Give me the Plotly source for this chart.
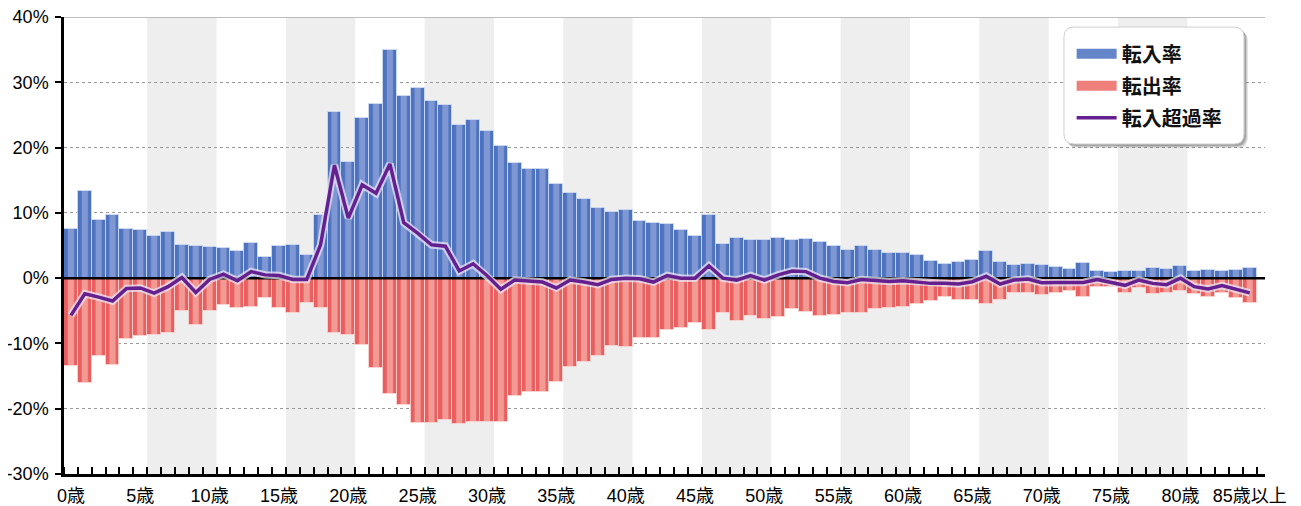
import plotly.graph_objects as go

# age index 0..85 (85 = 85歳以上)
ages = list(range(86))

in_rate = [7.6, 13.4, 8.9, 9.7, 7.6, 7.3, 6.4, 7.0, 5.1, 5.0,
           4.75, 4.6, 4.1, 5.4, 3.3, 4.9, 5.1, 3.5, 9.7, 25.4,
           17.8, 24.5, 26.7, 35.0, 27.9, 29.1, 27.2, 26.5, 23.4, 24.2,
           22.5, 20.3, 17.7, 16.7, 16.7, 14.4, 13.1, 12.1, 10.8, 10.1,
           10.5, 8.7, 8.5, 8.3, 7.3, 6.5, 9.7, 5.3, 6.1, 5.9,
           5.9, 6.2, 5.8, 6.0, 5.5, 4.9, 4.3, 5.0, 4.3, 3.9,
           3.9, 3.5, 2.7, 2.15, 2.45, 2.75, 4.1, 2.4, 2.0, 2.15,
           2.0, 1.65, 1.4, 2.25, 1.1, 0.9, 1.1, 1.05, 1.6, 1.4,
           1.8, 1.1, 1.2, 1.05, 1.3, 1.5]

out_rate = [-13.5, -16.0, -12.0, -13.3, -9.25, -8.8, -8.7, -8.4, -5.1, -7.2,
            -5.1, -4.1, -4.5, -4.4, -3.1, -4.6, -5.3, -3.8, -4.6, -8.4,
            -8.7, -10.3, -13.8, -17.8, -19.5, -22.2, -22.2, -21.8, -22.3, -22.1,
            -22.1, -22.1, -18.1, -17.4, -17.4, -15.9, -13.6, -12.9, -12.0, -10.4,
            -10.6, -9.1, -9.1, -8.0, -7.6, -6.9, -7.9, -5.3, -6.5, -5.8,
            -6.2, -5.9, -4.75, -5.2, -5.8, -5.7, -5.3, -5.3, -4.75, -4.5,
            -4.4, -4.0, -3.5, -2.9, -3.3, -3.3, -4.0, -3.3, -2.2, -2.2,
            -2.6, -2.35, -1.95, -2.9, -1.4, -1.4, -2.25, -1.5, -2.4, -2.35,
            -1.9, -2.45, -2.9, -2.35, -3.0, -3.8]

net_rate = [-5.7, -2.4, -2.9, -3.5, -1.6, -1.5, -2.3, -1.3, 0.1, -2.2,
            -0.2, 0.6, -0.4, 1.0, 0.5, 0.4, -0.2, -0.2, 5.1, 17.3,
            9.2, 14.3, 13.0, 17.5, 8.5, 6.9, 5.1, 4.9, 1.1, 2.2,
            0.4, -1.7, -0.3, -0.4, -0.6, -1.5, -0.3, -0.6, -1.0, -0.2,
            0.0, -0.1, -0.6, 0.4, 0.0, 0.0, 1.9, 0.0, -0.3, 0.4,
            -0.3, 0.5, 1.1, 1.0, 0.0, -0.5, -0.7, -0.2, -0.4, -0.5,
            -0.4, -0.6, -0.8, -0.8, -0.9, -0.55, 0.3, -0.9, -0.3, -0.15,
            -0.7, -0.65, -0.6, -0.65, -0.2, -0.6, -1.1, -0.3, -0.8, -1.0,
            0.0, -1.3, -1.65, -1.15, -1.7, -2.25]

tick_pos = [0, 5, 10, 15, 20, 25, 30, 35, 40, 45, 50, 55, 60, 65, 70, 75, 80, 85]
tick_labels = ["0歳", "5歳", "10歳", "15歳", "20歳", "25歳", "30歳", "35歳", "40歳",
               "45歳", "50歳", "55歳", "60歳", "65歳", "70歳", "75歳", "80歳", "85歳以上"]
y_ticks = [-30, -20, -10, 0, 10, 20, 30, 40]
y_labels = ["-30%", "-20%", "-10%", "0%", "10%", "20%", "30%", "40%"]

FONT = "Liberation Sans, Noto Sans CJK JP, sans-serif"
XR = [-0.5, 86.1]
bar_w = 1201 / (XR[1] - XR[0])  # px per bar, used for the shading stripe

fig = go.Figure()
fig.add_bar(x=ages, y=in_rate, name="転入率", showlegend=False,
            marker=dict(color="#5479c3", line=dict(color="rgba(210,222,245,0.8)", width=1),
                        pattern=dict(shape="|", bgcolor="#4d72bf", fgcolor="#7f98d3",
                                     size=bar_w, solidity=0.45, fillmode="replace")))
fig.add_bar(x=ages, y=out_rate, name="転出率", showlegend=False,
            marker=dict(color="#ec6d6b", line=dict(color="rgba(250,215,212,0.8)", width=1),
                        pattern=dict(shape="|", bgcolor="#e95e5e", fgcolor="#f39a94",
                                     size=bar_w, solidity=0.45, fillmode="replace")))
# zero line above bars, below the net line
fig.add_scatter(x=XR, y=[0, 0], mode="lines", line=dict(color="black", width=2.5),
                showlegend=False, hoverinfo="skip")
fig.add_scatter(x=ages, y=net_rate, mode="lines", line=dict(color="rgba(235,230,245,0.75)", width=7.5),
                showlegend=False, hoverinfo="skip")
fig.add_scatter(x=ages, y=net_rate, mode="lines", name="転入超過率", legendrank=3, legendgroup="c",
                line=dict(color="#64208e", width=3.5))
# legend keys for the bars: wide rectangles like the original
fig.add_scatter(x=[None], y=[None], mode="lines", name="転入率", legendrank=1, legendgroup="a",
                line=dict(color="#6585c9", width=19), hoverinfo="skip")
fig.add_scatter(x=[None], y=[None], mode="lines", name="転出率", legendrank=2, legendgroup="b",
                line=dict(color="#ee7f7b", width=19), hoverinfo="skip")

# grey age bands
for a in range(5, 80, 10):
    fig.add_shape(type="rect", xref="x", yref="paper", x0=a + 0.5, x1=a + 5.5, y0=0, y1=1,
                  fillcolor="#eeeeee", line_width=0, layer="below")

# top border
fig.add_shape(type="line", xref="paper", yref="y", x0=0, x1=1, y0=40, y1=40,
              line=dict(color="#a8a8a8", width=1.5), layer="above")

# legend box with rounded corners and shadow
bx0, bx1, by0, by1 = 0.8326, 0.9825, 0.7221, 0.978
rx, ry = 0.0085, 0.022


def rounded(x0, x1, y0, y1):
    return (f"M{x0 + rx},{y1} L{x1 - rx},{y1} Q{x1},{y1} {x1},{y1 - ry} "
            f"L{x1},{y0 + ry} Q{x1},{y0} {x1 - rx},{y0} L{x0 + rx},{y0} "
            f"Q{x0},{y0} {x0},{y0 + ry} L{x0},{y1 - ry} Q{x0},{y1} {x0 + rx},{y1} Z")


for k, op in [(4, 0.12), (3, 0.18), (2, 0.25)]:
    dx, dy = k / 1201, k / 457
    fig.add_shape(type="path", xref="paper", yref="paper",
                  path=rounded(bx0 + dx, bx1 + dx, by0 - dy, by1 - dy),
                  fillcolor=f"rgba(60,60,60,{op})", line_width=0, layer="above")
fig.add_shape(type="path", xref="paper", yref="paper", path=rounded(bx0, bx1, by0, by1),
              fillcolor="white", line=dict(color="#d0d0d0", width=1), layer="above")

major_ticks = [-0.5] + [a + 0.5 for a in range(5, 86, 5)]

# page body has an 8px margin: margins are cut by 8px so the plot lands where it should,
# the extra 8px on the right / bottom fall outside the window
fig.update_layout(
    width=1301, height=506,
    margin=dict(l=56, r=44, t=9, b=40),
    plot_bgcolor="white", paper_bgcolor="white",
    barmode="relative", bargap=0,
    font=dict(family=FONT, size=18, color="black"),
    legend=dict(x=0.839, xanchor="left", y=0.962, yanchor="top",
                bgcolor="rgba(0,0,0,0)", borderwidth=0, tracegroupgap=3, itemwidth=40,
                font=dict(family="Noto Sans CJK JP", size=20, weight=700, color="#111")),
    xaxis=dict(range=XR, tickmode="array", tickvals=tick_pos, ticktext=tick_labels, ticks="",
               showgrid=False, zeroline=False, showline=True, linecolor="black", linewidth=2.5,
               ticklabelstandoff=4, automargin=False, ticklabeloverflow="allow",
               minor=dict(tickmode="array", tickvals=[a - 0.5 for a in range(87)], ticks="inside",
                          ticklen=7, tickwidth=1.5, tickcolor="black", showgrid=False)),
    xaxis2=dict(overlaying="x", anchor="y", side="bottom", range=XR,
                tickmode="array", tickvals=major_ticks,
                ticks="outside", ticklen=7, tickwidth=2, tickcolor="black",
                showticklabels=False, showgrid=False, zeroline=False, showline=False,
                automargin=False),
    yaxis=dict(range=[-30, 40], tickmode="array", tickvals=y_ticks, ticktext=y_labels,
               ticks="outside", ticklen=6, tickwidth=2, tickcolor="black",
               showline=True, linecolor="black", linewidth=2.5,
               showgrid=True, gridcolor="#9a9a9a", griddash="dot", gridwidth=1,
               zeroline=False, ticklabelstandoff=3, automargin=False,
               ticklabeloverflow="allow"),
)

fig.write_html("out.html")
